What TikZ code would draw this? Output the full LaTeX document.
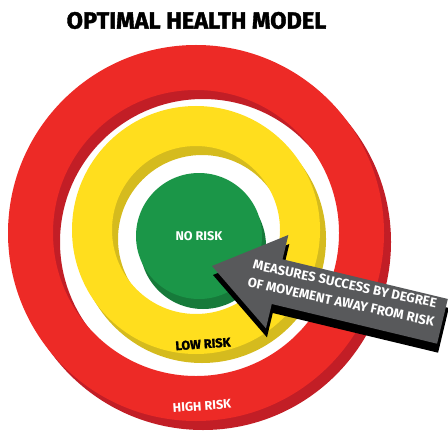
\documentclass[tikz,border=0pt]{standalone}
\usepackage{fontspec}
\setmainfont{Fira Sans}
\newfontfamily\heavyfont{Fira Sans}[BoldFeatures={FakeBold=1.6}]
\usetikzlibrary{calc}

\tikzset{	Pix/.style={x={(0.02cm,0cm)},y={(0cm,-0.02cm)}},
		lbl/.style={font=\bfseries\fontsize{7.2}{10.6}\selectfont,inner sep=0pt}
				}
\definecolor{redR}{RGB}{237,42,38}
\definecolor{redD}{RGB}{194,30,38}
\definecolor{yellowR}{RGB}{255,222,30}
\definecolor{yellowD}{RGB}{213,187,30}
\definecolor{greenR}{RGB}{27,150,72}
\definecolor{greenD}{RGB}{22,122,58}
\definecolor{greyA}{RGB}{88,89,91}

\begin{document}
\begin{tikzpicture}[Pix]
	\useasboundingbox (0,0) rectangle (448,435);

	\node[font=\heavyfont\bfseries\fontsize{13.4}{15}\selectfont,inner sep=0pt] (title) at (196.5,20.5) {OPTIMAL HEALTH MODEL};

        % ringe, jeweils erst die dunkle kante, dann die flaeche
	\coordinate (cR) at (196,233);
	\coordinate (cY) at (196,230);
	\coordinate (cG) at (199,236);

        \fill[redD,even odd rule] ($(cR)+(7,9)$) circle (188) ($(cR)+(7,9)$) circle (143);
        \fill[redR,even odd rule] (cR) circle (188) (cR) circle (143);
        \fill[yellowD,even odd rule] ($(cY)+(6,9)$) circle (124) ($(cY)+(6,9)$) circle (84);
        \fill[yellowR,even odd rule] (cY) circle (124) (cY) circle (84);
        \fill[greenD] ($(cG)+(4,10)$) circle (63);
        \fill[greenR] (cG) circle (63);

	\node[lbl,text=white] (none) at (cG) {NO RISK};
	\node[lbl,text=black,rotate=4,font=\heavyfont\bfseries\fontsize{7.2}{9}\selectfont] (low) at (203,344) {LOW RISK};
	\node[lbl,text=white,rotate=4] (high) at (202,406) {HIGH RISK};

        % pfeil mit schatten
	\begin{scope}[shift={(213,275)},rotate=-13.5]
	\fill[black] (0,0)--(67,-48)--(67,-23)--(237,-23)--(237,23)--(67,23)--(67,48)--cycle;
	\end{scope}
	\begin{scope}[shift={(212,266)},rotate=-13.5]
	\fill[greyA] (0,0)--(67,-48)--(67,-23)--(237,-23)--(237,23)--(67,23)--(67,48)--cycle;
	\end{scope}

	\node[lbl,text=white,rotate=-12,align=center,font=\bfseries\fontsize{7.5}{10.6}\selectfont] (msg) at (343,293) {MEASURES SUCCESS BY DEGREE\\OF MOVEMENT AWAY FROM RISK};
\end{tikzpicture}
\end{document}
